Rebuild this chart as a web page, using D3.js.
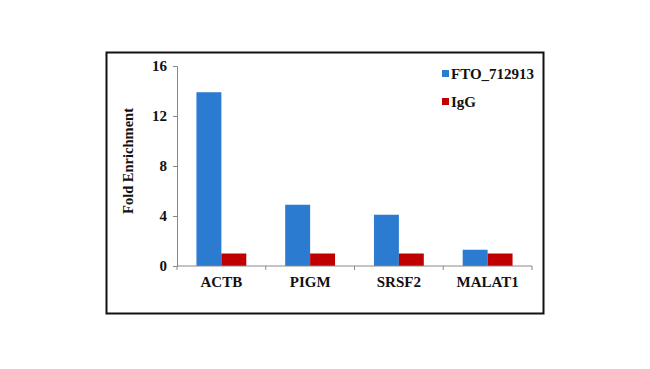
<!DOCTYPE html>
<html><head><meta charset="utf-8">
<script src="https://cdn.jsdelivr.net/npm/d3@7"></script>
<style>body{margin:0;background:#fff}svg{display:block}</style>
</head><body>
<script>
const categories = ["ACTB","PIGM","SRSF2","MALAT1"];
const seriesNames = ["FTO_712913","IgG"];
const ftoValues = [13.9, 4.9, 4.1, 1.3];
const iggValues = [1.0, 1.0, 1.0, 1.0];
const yTicks = [0,4,8,12,16];
const colors = ["#2b7bd1","#c00000"];

const W=650,H=369;
const svg=d3.select("body").append("svg").attr("width",W).attr("height",H);
const font="'Liberation Serif','Times New Roman',serif";

svg.append("rect").attr("x",106.5).attr("y",52.5).attr("width",437).attr("height",261)
  .attr("fill","#fff").attr("stroke","#111").attr("stroke-width",2);

const x=d3.scaleBand().domain(categories).range([177,532]);
const y=d3.scaleLinear().domain([0,16]).range([266,66]);
const xs=d3.scaleBand().domain(seriesNames).range([0,x.bandwidth()]).paddingOuter(0.78).paddingInner(0);

const data=[ftoValues,iggValues];
data.forEach((vals,si)=>{
  svg.append("g").selectAll("rect").data(categories).join("rect")
    .attr("x",(c)=>x(c)+xs(seriesNames[si]))
    .attr("width",xs.bandwidth())
    .attr("y",(c,i)=>y(vals[i]))
    .attr("height",(c,i)=>y(0)-y(vals[i]))
    .attr("fill",colors[si]);
});

const ya=svg.append("g").attr("transform","translate(177,0)")
  .call(d3.axisLeft(y).tickValues(yTicks).tickSize(4).tickPadding(6));
ya.select(".domain").attr("stroke","#888");
ya.selectAll(".tick line").attr("stroke","#888");
ya.selectAll("text").attr("font-family",font).attr("font-weight","bold").attr("font-size","15px").attr("fill","#111");

const xa=svg.append("g").attr("transform","translate(0,266)")
  .call(d3.axisBottom(x).tickSize(0).tickPadding(10));
xa.select(".domain").attr("stroke","#888").attr("d","M177,0H532");
xa.selectAll("text").attr("font-family",font).attr("font-weight","bold").attr("font-size","15px").attr("fill","#111");
const bounds=categories.map(c=>x(c)).concat([x.range()[1]]);
svg.append("g").selectAll("line").data(bounds).join("line")
  .attr("x1",d=>d).attr("x2",d=>d).attr("y1",266).attr("y2",270).attr("stroke","#888");

svg.append("text").attr("transform","translate(133,161) rotate(-90)")
  .attr("text-anchor","middle").attr("font-family",font).attr("font-weight","bold")
  .attr("font-size","14.5px").attr("fill","#111").text("Fold Enrichment");

const lg=svg.append("g");
seriesNames.forEach((n,i)=>{
  const ly=74+i*28;
  lg.append("rect").attr("x",442).attr("y",ly-4).attr("width",7).attr("height",7).attr("fill",colors[i]);
  lg.append("text").attr("x",451).attr("y",ly+5).attr("font-family",font).attr("font-weight","bold")
    .attr("font-size","15px").attr("fill","#111").text(n);
});
</script>
</body></html>
